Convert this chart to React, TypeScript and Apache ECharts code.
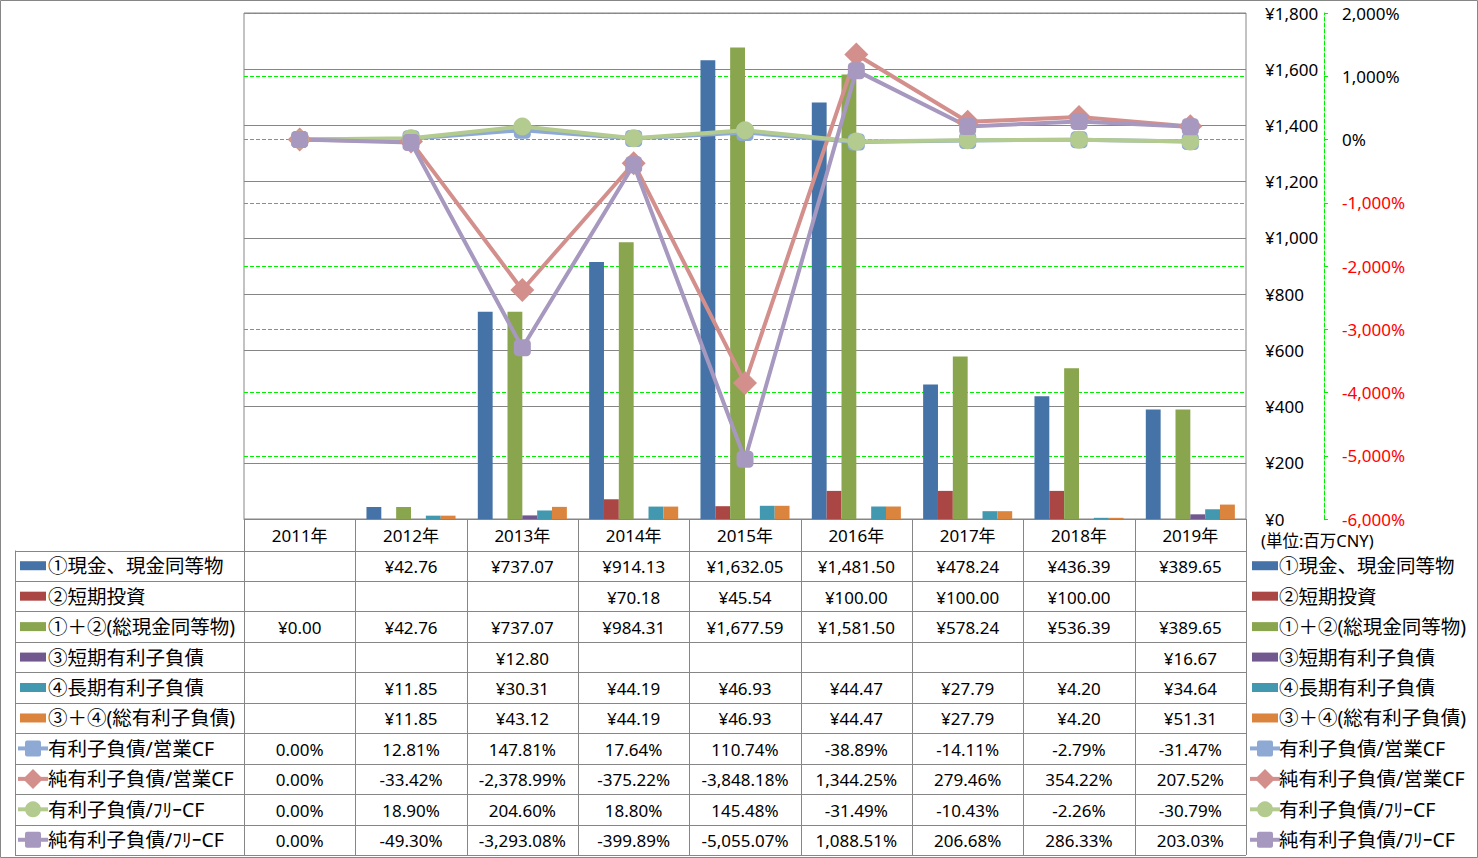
import React, { useEffect, useRef } from "react";
import * as echarts from "echarts";

const years = ["2011年", "2012年", "2013年", "2014年", "2015年", "2016年", "2017年", "2018年", "2019年"];

const cash = [null, 42.76, 737.07, 914.13, 1632.05, 1481.5, 478.24, 436.39, 389.65];
const shortInv = [null, null, null, 70.18, 45.54, 100.0, 100.0, 100.0, null];
const totalCash = [0.0, 42.76, 737.07, 984.31, 1677.59, 1581.5, 578.24, 536.39, 389.65];
const shortDebt = [null, null, 12.8, null, null, null, null, null, 16.67];
const longDebt = [null, 11.85, 30.31, 44.19, 46.93, 44.47, 27.79, 4.2, 34.64];
const totalDebt = [null, 11.85, 43.12, 44.19, 46.93, 44.47, 27.79, 4.2, 51.31];

const debtOcf = [0.0, 12.81, 147.81, 17.64, 110.74, -38.89, -14.11, -2.79, -31.47];
const netDebtOcf = [0.0, -33.42, -2378.99, -375.22, -3848.18, 1344.25, 279.46, 354.22, 207.52];
const debtFcf = [0.0, 18.9, 204.6, 18.8, 145.48, -31.49, -10.43, -2.26, -30.79];
const netDebtFcf = [0.0, -49.3, -3293.08, -399.89, -5055.07, 1088.51, 206.68, 286.33, 203.03];

const barNames = [
  "①現金、現金同等物",
  "②短期投資",
  "①＋②(総現金同等物)",
  "③短期有利子負債",
  "④長期有利子負債",
  "③＋④(総有利子負債)",
];
const lineNames = ["有利子負債/営業CF", "純有利子負債/営業CF", "有利子負債/ﾌﾘｰCF", "純有利子負債/ﾌﾘｰCF"];

const barColors = ["#4572A7", "#AA4643", "#89A54E", "#71588F", "#4198AF", "#DB843D"];
const lineColors = ["#8EA9D4", "#D38F8C", "#B3CB8E", "#A698BE"];
const lineSymbols = ["roundRect", "diamond", "circle", "roundRect"];
const lineSymbolSizes = [17, 24, 18, 17];

const FONT = "'Noto Sans', 'Noto Sans CJK JP', sans-serif";

const fmtNum = (v: number) =>
  v.toLocaleString("en-US", { minimumFractionDigits: 2, maximumFractionDigits: 2 });
const yen = (v: number | null) => (v == null ? "" : "¥" + fmtNum(v));
const pct = (v: number | null) => (v == null ? "" : fmtNum(v) + "%");

export default function App() {
  const ref = useRef<HTMLDivElement>(null);
  useEffect(() => {
    if (!ref.current) return;
    const chart = echarts.init(ref.current, null, { renderer: "svg" });

    const W = 1478;
    const H = 858;
    const gl = 244;
    const gr = 1246;
    const gt = 13;
    const gb = 519;
    const tableBottom = 855;
    const tableLeft = 15;
    const headerBottom = 550.5;
    const nRows = 10;
    const rowH = (tableBottom - headerBottom) / nRows;
    const colW = (gr - gl) / years.length;
    const gridColor = "#868686";

    const barData = [cash, shortInv, totalCash, shortDebt, longDebt, totalDebt];
    const lineData = [debtOcf, netDebtOcf, debtFcf, netDebtFcf];

    const graphics: any[] = [];
    graphics.push({
      type: "rect",
      shape: { x: 0.5, y: 0.5, width: W - 1, height: H - 1 },
      style: { fill: "none", stroke: gridColor, lineWidth: 1 },
      silent: true,
    });
    for (let r = 0; r <= nRows; r++) {
      const y = Math.round(headerBottom + r * rowH) + 0.5;
      graphics.push({
        type: "line",
        shape: { x1: tableLeft, y1: y, x2: gr, y2: y },
        style: { stroke: gridColor, lineWidth: 1 },
        silent: true,
      });
    }
    graphics.push({
      type: "line",
      shape: { x1: tableLeft + 0.5, y1: headerBottom, x2: tableLeft + 0.5, y2: tableBottom },
      style: { stroke: gridColor, lineWidth: 1 },
      silent: true,
    });
    for (let c = 0; c <= years.length; c++) {
      const x = Math.round(gl + c * colW) + 0.5;
      graphics.push({
        type: "line",
        shape: { x1: x, y1: gb, x2: x, y2: tableBottom },
        style: { stroke: gridColor, lineWidth: 1 },
        silent: true,
      });
    }
    years.forEach((y, i) => {
      graphics.push({
        type: "text",
        x: gl + colW * (i + 0.5),
        y: (gb + headerBottom) / 2 + 1,
        style: { text: y, font: `17px ${FONT}`, fill: "#000", align: "center", verticalAlign: "middle" },
        silent: true,
      });
    });
    const allNames = [...barNames, ...lineNames];
    const allData = [...barData, ...lineData];
    const legendMarker = (x0: number, cy: number, idx: number) => {
      if (idx < 6) {
        graphics.push({
          type: "rect",
          shape: { x: x0 + 2, y: cy - 4.5, width: 26, height: 9 },
          style: { fill: barColors[idx] },
          silent: true,
        });
      } else {
        const k = idx - 6;
        const col = lineColors[k];
        const cx = x0 + 15;
        graphics.push({
          type: "line",
          shape: { x1: x0, y1: cy, x2: x0 + 30, y2: cy },
          style: { stroke: col, lineWidth: 4 },
          silent: true,
        });
        if (k === 1) {
          graphics.push({
            type: "polygon",
            shape: { points: [[cx, cy - 10], [cx + 10, cy], [cx, cy + 10], [cx - 10, cy]] },
            style: { fill: col },
            silent: true,
          });
        } else if (k === 2) {
          graphics.push({ type: "circle", shape: { cx, cy, r: 8 }, style: { fill: col }, silent: true });
        } else {
          graphics.push({
            type: "rect",
            shape: { x: cx - 8, y: cy - 8, width: 16, height: 16, r: 2 },
            style: { fill: col },
            silent: true,
          });
        }
      }
    };
    allNames.forEach((name, r) => {
      const cy = headerBottom + rowH * (r + 0.5);
      legendMarker(tableLeft + 3, cy, r);
      graphics.push({
        type: "text",
        x: tableLeft + 33,
        y: cy,
        style: { text: name, font: `19.5px ${FONT}`, fill: "#000", align: "left", verticalAlign: "middle" },
        silent: true,
      });
      legendMarker(1250, cy, r);
      graphics.push({
        type: "text",
        x: 1279,
        y: cy,
        style: { text: name, font: `19.5px ${FONT}`, fill: "#000", align: "left", verticalAlign: "middle" },
        silent: true,
      });
      const vals = allData[r];
      vals.forEach((v, i) => {
        const txt = r < 6 ? yen(v as number | null) : pct(v as number | null);
        if (!txt) return;
        graphics.push({
          type: "text",
          x: gl + colW * (i + 0.5),
          y: cy + 1,
          style: { text: txt, font: `17px ${FONT}`, fill: "#000", align: "center", verticalAlign: "middle" },
          silent: true,
        });
      });
    });
    graphics.push({
      type: "text",
      x: 1261,
      y: 540,
      style: { text: "(単位:百万CNY)", font: `16.5px ${FONT}`, fill: "#000", align: "left", verticalAlign: "middle" },
      silent: true,
    });

    const series: any[] = [];
    barData.forEach((d, i) => {
      series.push({
        name: barNames[i],
        type: "bar",
        data: d,
        yAxisIndex: 0,
        barGap: "0%",
        barCategoryGap: "20%",
        itemStyle: { color: barColors[i] },
      });
    });
    lineData.forEach((d, i) => {
      series.push({
        name: lineNames[i],
        type: "line",
        data: d,
        yAxisIndex: 1,
        symbol: lineSymbols[i],
        symbolSize: lineSymbolSizes[i],
        showAllSymbol: true,
        lineStyle: { color: lineColors[i], width: 4 },
        itemStyle: { color: lineColors[i] },
        z: 3,
      });
    });

    chart.setOption({
      animation: false,
      textStyle: { fontFamily: FONT },
      grid: {
        left: gl,
        right: W - gr,
        top: gt,
        bottom: H - gb,
        show: true,
        borderColor: gridColor,
        borderWidth: 1,
        backgroundColor: "transparent",
      },
      xAxis: {
        type: "category",
        data: years,
        axisLine: { show: true, lineStyle: { color: gridColor } },
        axisTick: { show: false },
        axisLabel: { show: false },
        splitLine: { show: false },
      },
      yAxis: [
        {
          type: "value",
          position: "right",
          min: 0,
          max: 1800,
          interval: 200,
          axisLine: { show: false },
          axisTick: { show: false },
          axisLabel: {
            margin: 19,
            fontSize: 17,
            color: "#000",
            fontFamily: FONT,
            formatter: (v: number) => "¥" + v.toLocaleString("en-US"),
          },
          splitLine: { show: true, lineStyle: { color: gridColor, width: 1 } },
        },
        {
          type: "value",
          position: "right",
          offset: 78,
          min: -6000,
          max: 2000,
          interval: 1000,
          axisLine: { show: true, lineStyle: { color: "#00EE00", type: "dashed", width: 1 } },
          axisTick: { show: true, length: 4, lineStyle: { color: "#00EE00" } },
          axisLabel: {
            margin: 18,
            fontSize: 17,
            fontFamily: FONT,
            color: (v: any) => (Number(v) < 0 ? "#FF0000" : "#000"),
            formatter: (v: number) => v.toLocaleString("en-US") + "%",
          },
          splitLine: { show: true, lineStyle: { color: "#00EE00", type: "dashed", width: 1 } },
        },
      ],
      series,
      graphic: graphics,
    });
    return () => chart.dispose();
  }, []);
  return (
    <div
      ref={ref}
      style={{ position: "fixed", left: 0, top: 0, width: 1478, height: 858, background: "#fff" }}
    />
  );
}
